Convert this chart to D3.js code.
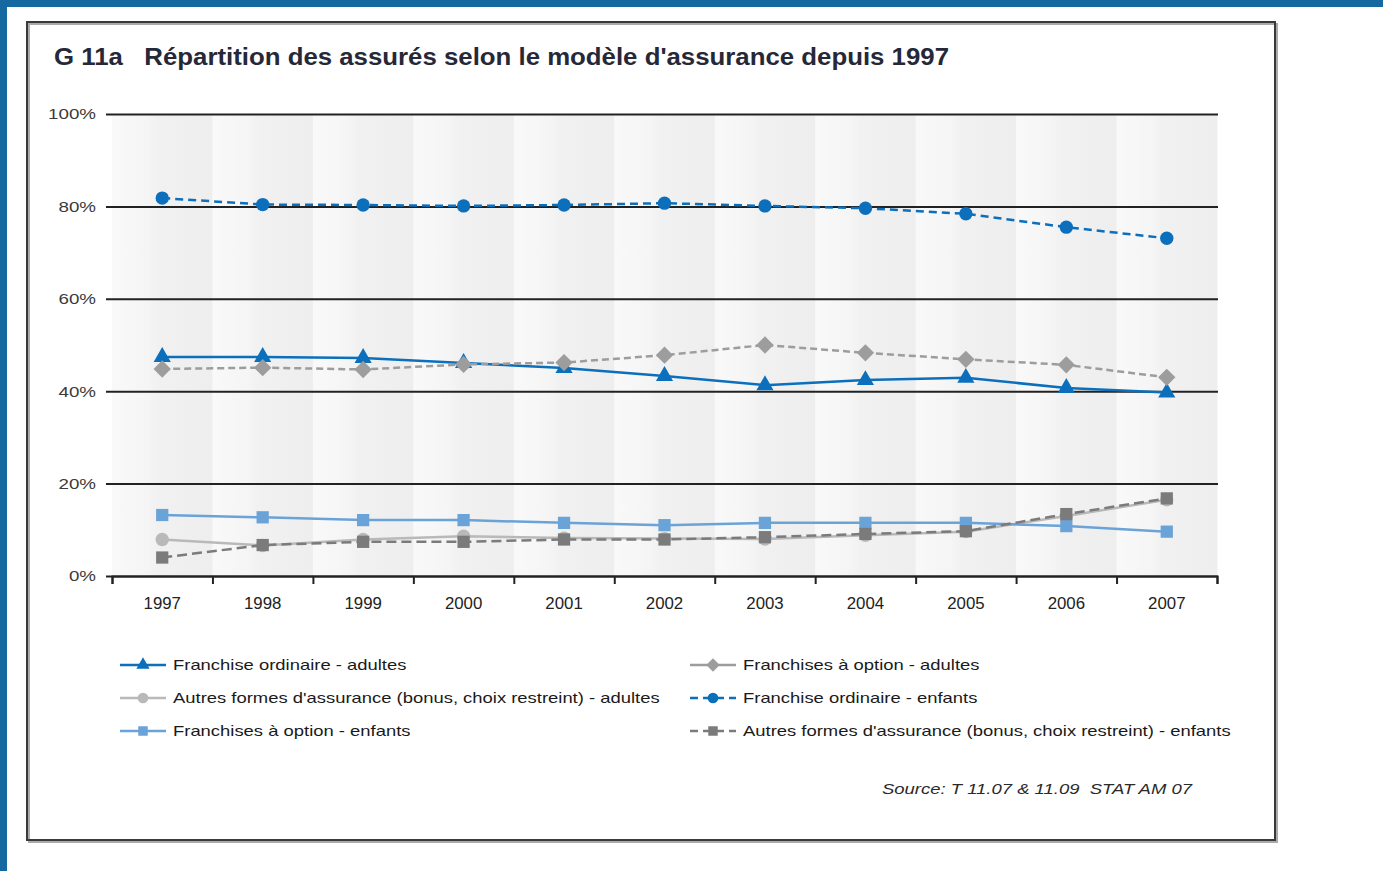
<!DOCTYPE html>
<html lang="fr">
<head>
<meta charset="UTF-8">
<title>G 11a</title>
<script src="https://d3js.org/d3.v7.min.js"></script>
<style>
  * { margin: 0; padding: 0; }
  body { background: #fff; width: 1383px; height: 871px; overflow: hidden; }
  svg { display: block; font-family: "Liberation Sans", Arial, sans-serif; }
</style>
</head>
<body>
<div id="chart"></div>
<script>
// données (en %)
const years = [1997, 1998, 1999, 2000, 2001, 2002, 2003, 2004, 2005, 2006, 2007];
const foAdultes = [47.4, 47.4, 47.2, 46.1, 45.0, 43.3, 41.3, 42.4, 42.9, 40.7, 39.7];
const faAdultes = [44.8, 45.1, 44.7, 45.8, 46.2, 47.8, 50.0, 48.3, 46.9, 45.7, 43.0];
const afAdultes = [7.9, 6.6, 7.9, 8.6, 8.2, 8.1, 8.0, 8.8, 9.6, 13.0, 16.5];
const foEnfants = [81.8, 80.4, 80.3, 80.1, 80.3, 80.7, 80.1, 79.6, 78.4, 75.5, 73.1];
const faEnfants = [13.2, 12.7, 12.1, 12.1, 11.5, 11.0, 11.5, 11.5, 11.5, 10.8, 9.6];
const afEnfants = [4.0, 6.7, 7.4, 7.4, 7.9, 7.9, 8.4, 9.1, 9.7, 13.4, 16.8];
const yTicks = [0, 20, 40, 60, 80, 100];

const titleText = "G 11a   Répartition des assurés selon le modèle d'assurance depuis 1997";
const sourceText = "Source: T 11.07 & 11.09  STAT AM 07";

// ordre du tableau = ordre de la légende (ligne par ligne, 2 colonnes)
const series = [
  { name: "Franchise ordinaire - adultes", values: foAdultes, color: "#0b6fbc", dash: null, legDash: null, sym: "triangle", z: 3 },
  { name: "Franchises à option - adultes", values: faAdultes, color: "#9d9d9d", dash: "7,4", legDash: null, sym: "diamond", z: 4 },
  { name: "Autres formes d'assurance (bonus, choix restreint) - adultes", values: afAdultes, color: "#b9b9b9", dash: null, legDash: null, sym: "circle", z: 0 },
  { name: "Franchise ordinaire - enfants", values: foEnfants, color: "#0b6fbc", dash: "8,5", legDash: "8,5", sym: "circle", z: 5 },
  { name: "Franchises à option - enfants", values: faEnfants, color: "#6aa3d7", dash: null, legDash: null, sym: "square", z: 1 },
  { name: "Autres formes d'assurance (bonus, choix restreint) - enfants", values: afEnfants, color: "#7b7b7b", dash: "10,5", legDash: "8,5", sym: "square", z: 2 }
];

const W = 1383, H = 871;
const svg = d3.select("#chart").append("svg").attr("width", W).attr("height", H);

// bandeau bleu
svg.append("rect").attr("x", 0).attr("y", 0).attr("width", W).attr("height", 7).attr("fill", "#1569a0");
svg.append("rect").attr("x", 0).attr("y", 0).attr("width", 7).attr("height", H).attr("fill", "#1569a0");

// cadre
svg.append("rect").attr("x", 29).attr("y", 24).attr("width", 1248).attr("height", 818).attr("fill", "none").attr("stroke", "#aaa").attr("stroke-width", 2);
svg.append("rect").attr("x", 27).attr("y", 22).attr("width", 1248).attr("height", 818).attr("fill", "none").attr("stroke", "#3a3a3a").attr("stroke-width", 2);

// petit helper : étire le texte horizontalement comme sur l'original
function stretch(sel, k) {
  sel.each(function () {
    const l = this.getComputedTextLength();
    d3.select(this).attr("textLength", l * k).attr("lengthAdjust", "spacingAndGlyphs");
  });
}

const title = svg.append("text").attr("x", 54).attr("y", 65)
  .attr("font-size", 23).attr("font-weight", "bold").attr("fill", "#262838")
  .attr("xml:space", "preserve").style("white-space", "pre")
  .text(titleText);
stretch(title, 895 / title.node().getComputedTextLength());

const plotL = 112, plotR = 1217, plotT = 114, plotB = 576;

const x = d3.scaleBand().domain(years).range([plotL, plotR]);
const xEdge = d3.scaleLinear().domain([0, years.length]).range([plotL, plotR]);
const y = d3.scaleLinear().domain([0, 100]).range([plotB, plotT]);

// fond en bandes dégradées
const defs = svg.append("defs");
const grad = defs.append("linearGradient").attr("id", "band").attr("x1", "0").attr("x2", "1").attr("y1", "0").attr("y2", "0");
grad.append("stop").attr("offset", "0%").attr("stop-color", "#f9f9f9");
grad.append("stop").attr("offset", "35%").attr("stop-color", "#f5f5f5");
grad.append("stop").attr("offset", "45%").attr("stop-color", "#f1f1f1");
grad.append("stop").attr("offset", "100%").attr("stop-color", "#eeeeee");

svg.append("g").selectAll("rect").data(years).enter().append("rect")
  .attr("x", d => x(d))
  .attr("y", plotT)
  .attr("width", x.bandwidth() + 0.5)
  .attr("height", plotB - plotT)
  .attr("fill", "url(#band)");

// grille + étiquettes Y
const yAxis = svg.append("g").attr("transform", "translate(1218,0)")
  .call(d3.axisLeft(y).tickValues(yTicks).tickSize(1112).tickPadding(10).tickFormat(d => d + "%"));
yAxis.select(".domain").remove();
yAxis.selectAll("line").attr("stroke", "#222").attr("stroke-width", 2);
yAxis.selectAll("text").attr("font-size", 15).attr("fill", "#3a3a3a").attr("font-family", "Liberation Sans, Arial, sans-serif");
stretch(yAxis.selectAll("text"), 1.25);

// axe X : graduations aux bords des bandes
const xAxis = svg.append("g").attr("transform", `translate(0,${plotB})`)
  .call(d3.axisBottom(xEdge).tickValues(d3.range(years.length + 1)).tickSize(8).tickFormat(""));
xAxis.select(".domain").attr("stroke", "#222").attr("stroke-width", 2);
xAxis.selectAll("line").attr("stroke", "#222").attr("stroke-width", 2);

const xLab = svg.append("g").attr("transform", `translate(0,${plotB})`)
  .call(d3.axisBottom(x).tickSize(0).tickPadding(22));
xLab.select(".domain").remove();
xLab.selectAll("text").attr("font-size", 16).attr("fill", "#222").attr("font-family", "Liberation Sans, Arial, sans-serif");
stretch(xLab.selectAll("text"), 1.05);

// symboles
function symPath(s, size) {
  if (s === "triangle") return d3.symbol(d3.symbolTriangle, size * 0.85)();
  if (s === "circle") return d3.symbol(d3.symbolCircle, size)();
  return d3.symbol(d3.symbolSquare, size)();
}

const line = d3.line().x((d, i) => x(years[i]) + x.bandwidth() / 2).y(d => y(d));

const ordered = series.slice().sort((a, b) => a.z - b.z);
ordered.forEach(s => {
  const g = svg.append("g");
  g.append("path").datum(s.values)
    .attr("d", line)
    .attr("fill", "none")
    .attr("stroke", s.color)
    .attr("stroke-width", 2.5)
    .attr("stroke-dasharray", s.dash);
  g.selectAll("path.mk").data(s.values).enter().append("path")
    .attr("class", "mk")
    .attr("d", symPath(s.sym, s.sym === "circle" ? 140 : 150))
    .attr("fill", s.color)
    .attr("transform", (d, i) => `translate(${x(years[i]) + x.bandwidth() / 2},${y(d)})` + (s.sym === "diamond" ? " rotate(45)" : ""));
});

// légende
const legX = [120, 690], legY = [665, 698, 731];
series.forEach((s, i) => {
  const lx = legX[i % 2], ly = legY[Math.floor(i / 2)];
  const g = svg.append("g").attr("transform", `translate(${lx},${ly})`);
  g.append("line").attr("x1", 0).attr("x2", 46).attr("y1", 0).attr("y2", 0)
    .attr("stroke", s.color).attr("stroke-width", 2.5).attr("stroke-dasharray", s.legDash);
  g.append("path").attr("d", symPath(s.sym, 90))
    .attr("fill", s.color)
    .attr("transform", "translate(23,0)" + (s.sym === "diamond" ? " rotate(45)" : ""));
  const t = g.append("text").attr("x", 53).attr("y", 5)
    .attr("font-size", 14.5).attr("fill", "#1a1a1a").text(s.name);
  stretch(t, 1.27);
});

// source
const src = svg.append("text").attr("x", 882).attr("y", 794)
  .attr("font-size", 15).attr("font-style", "italic").attr("fill", "#2a2a2a")
  .attr("xml:space", "preserve").style("white-space", "pre")
  .text(sourceText);
stretch(src, 310 / src.node().getComputedTextLength());
</script>
</body>
</html>
